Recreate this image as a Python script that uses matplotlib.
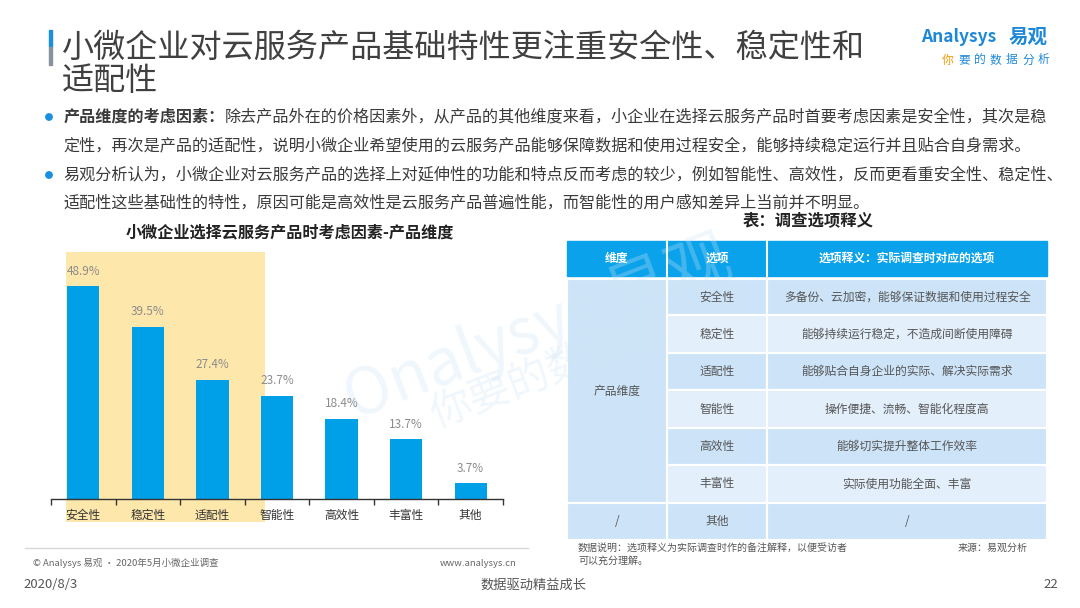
import numpy as np
import matplotlib.pyplot as plt
from matplotlib.patches import Rectangle, Circle

plt.rcParams['font.family'] = ['Noto Sans CJK SC', 'DejaVu Sans']

# chart data
categories = ["安全性", "稳定性", "适配性", "智能性", "高效性", "丰富性", "其他"]
values = [48.9, 39.5, 27.4, 23.7, 18.4, 13.7, 3.7]

# table data
table_header = ["维度", "选项", "选项释义：实际调查时对应的选项"]
table_options = ["安全性", "稳定性", "适配性", "智能性", "高效性", "丰富性", "其他"]
table_notes = ["多备份、云加密，能够保证数据和使用过程安全",
               "能够持续运行稳定，不造成间断使用障碍",
               "能够贴合自身企业的实际、解决实际需求",
               "操作便捷、流畅、智能化程度高",
               "能够切实提升整体工作效率",
               "实际使用功能全面、丰富",
               "/"]
table_dims = ["产品维度", "/"]

title_lines = ["小微企业对云服务产品基础特性更注重安全性、稳定性和", "适配性"]
bullet1_bold = "产品维度的考虑因素："
bullet1 = ["除去产品外在的价格因素外，从产品的其他维度来看，小企业在选择云服务产品时首要考虑因素是安全性，其次是稳",
           "定性，再次是产品的适配性，说明小微企业希望使用的云服务产品能够保障数据和使用过程安全，能够持续稳定运行并且贴合自身需求。"]
bullet2 = ["易观分析认为，小微企业对云服务产品的选择上对延伸性的功能和特点反而考虑的较少，例如智能性、高效性，反而更看重安全性、稳定性、",
           "适配性这些基础性的特性，原因可能是高效性是云服务产品普遍性能，而智能性的用户感知差异上当前并不明显。"]

BLUE = "#00A0E9"
TXT = "#3a3a3a"

fig = plt.figure(figsize=(10.8, 6.08), dpi=100)
bg = fig.add_axes([0, 0, 1, 1], zorder=0)
bg.set_xlim(0, 1080)
bg.set_ylim(608, 0)
bg.axis("off")

# title
bg.add_patch(Rectangle((48.5, 30), 3, 17, color="#1a8fe0"))
bg.add_patch(Rectangle((48.5, 47), 3, 18, color="#8a939b"))
bg.text(62, 48, title_lines[0], fontsize=23.1, color="#404040", va="center")
bg.text(62, 81, title_lines[1], fontsize=23.1, color="#404040", va="center")

# logo
bg.text(921, 37, "Analysys", fontsize=12.5, color="#1e88d8", va="center", style="italic",
        fontweight="bold")
bg.text(1048, 37, "易观", fontsize=14, color="#1e88d8", va="center", ha="right", fontweight="bold")
slogan = "你要的数据分析"
for i, ch in enumerate(slogan):
    bg.text(942 + i * 16, 60, ch, fontsize=8.5, va="center",
            color="#f39800" if i == 0 else "#1e88d8")

# bullets
bg.add_patch(Circle((49, 117), 3.2, color="#1a8fe0"))
bg.add_patch(Circle((49, 175), 3.2, color="#1a8fe0"))
bg.text(64, 117, bullet1_bold, fontsize=11.6, color=TXT, va="center", fontweight="bold")
bg.text(64 + 10 * 16.1, 117, bullet1[0], fontsize=11.6, color=TXT, va="center")
bg.text(63, 146, bullet1[1], fontsize=11.6, color=TXT, va="center")
bg.text(63, 175, bullet2[0], fontsize=11.6, color=TXT, va="center")
bg.text(63, 203, bullet2[1], fontsize=11.6, color=TXT, va="center")

# chart title
bg.text(290, 232, "小微企业选择云服务产品时考虑因素-产品维度", fontsize=11.6, color="#222222",
        ha="center", va="center", fontweight="bold")

# table
bg.text(808, 220, "表：调查选项释义", fontsize=11.8, color="#222222", ha="center",
        va="center", fontweight="bold")
col_x = [567, 667, 767, 1047]
bg.add_patch(Rectangle((col_x[0], 241), col_x[3] - col_x[0], 35, color="#0aa2ea", zorder=1))
for j in range(1, 3):
    bg.plot([col_x[j], col_x[j]], [241, 276], color="white", lw=1.5, zorder=2)
for j in range(3):
    bg.text((col_x[j] + col_x[j + 1]) / 2, 258.5, table_header[j], fontsize=8.5, color="white",
            ha="center", va="center", fontweight="bold", zorder=3)
row_y = [279, 315, 353, 390, 428, 465, 503, 540]
dark = "#cde4f8"
light = "#e3effb"
for i in range(len(table_options)):
    y0, y1 = row_y[i], row_y[i + 1]
    c = dark if i % 2 == 0 else light
    for j in (1, 2):
        bg.add_patch(Rectangle((col_x[j], y0), col_x[j + 1] - col_x[j], y1 - y0,
                               facecolor=c, edgecolor="white", lw=1.5, zorder=1))
    bg.text((col_x[1] + col_x[2]) / 2, (y0 + y1) / 2, table_options[i], fontsize=8.5,
            color="#555555", ha="center", va="center", zorder=3)
    bg.text((col_x[2] + col_x[3]) / 2, (y0 + y1) / 2, table_notes[i], fontsize=8.5,
            color="#555555", ha="center", va="center", zorder=3)
bg.add_patch(Rectangle((col_x[0], row_y[0]), col_x[1] - col_x[0], row_y[6] - row_y[0],
                       facecolor=dark, edgecolor="white", lw=1.5, zorder=1))
bg.add_patch(Rectangle((col_x[0], row_y[6]), col_x[1] - col_x[0], row_y[7] - row_y[6],
                       facecolor=dark, edgecolor="white", lw=1.5, zorder=1))
bg.text((col_x[0] + col_x[1]) / 2, (row_y[0] + row_y[6]) / 2, table_dims[0], fontsize=8.5,
        color="#555555", ha="center", va="center", zorder=3)
bg.text((col_x[0] + col_x[1]) / 2, (row_y[6] + row_y[7]) / 2, table_dims[1], fontsize=8.5,
        color="#555555", ha="center", va="center", zorder=3)

bg.text(578, 548, "数据说明：选项释义为实际调查时作的备注解释，以便受访者", fontsize=7.2,
        color="#555555", va="center")
bg.text(578, 561, "可以充分理解。", fontsize=7.2, color="#555555", va="center")
bg.text(1028, 548, "来源：易观分析", fontsize=7.2, color="#555555", va="center", ha="right")

# watermark
bg.text(335, 330, "Onalysys 易观", fontsize=46, color="#cfe6f7", alpha=0.3, rotation=21,
        va="center", zorder=2)
bg.text(425, 372, "你要的数据能", fontsize=30, color="#cfe6f7", alpha=0.3, rotation=21,
        va="center", zorder=2)

# chart footer
bg.plot([25, 528], [548, 548], color="#d8d8d8", lw=1)
bg.text(33, 563, "© Analysys 易观 · 2020年5月小微企业调查", fontsize=6.8, color="#666666", va="center")
bg.text(517, 563, "www.analysys.cn", fontsize=6.8, color="#666666", va="center", ha="right")

# page footer
bg.text(23, 585, "2020/8/3", fontsize=9.5, color="#555555", va="center")
bg.text(533, 585, "数据驱动精益成长", fontsize=9.5, color="#555555", va="center", ha="center")
bg.text(1058, 585, "22", fontsize=9.5, color="#555555", va="center", ha="right")

# bar chart axes: x from 51 to 503 px, baseline at y=499 px, 4.36 px per %
px_per_pct = 4.36
ymax = 60
h_px = ymax * px_per_pct
ax = fig.add_axes([51 / 1080, (608 - 499) / 608, 452 / 1080, h_px / 608], zorder=1)
ax.patch.set_alpha(0)
x = np.arange(len(categories))
ax.set_xlim(-0.5, len(categories) - 0.5)
ax.set_ylim(0, ymax)

# highlight block behind first three categories
ax.add_patch(Rectangle((-0.27, -5.3), 3.08, 62.0, facecolor="#fde7ab", edgecolor="none",
                       clip_on=False, zorder=0))

ax.bar(x, values, width=0.5, color=BLUE, zorder=2)
for xi, v in zip(x, values):
    ax.text(xi, v + 1.9, f"{v}%", ha="center", va="bottom", fontsize=8.5, color="#8c8c8c")

for s in ("top", "right", "left"):
    ax.spines[s].set_visible(False)
ax.spines["bottom"].set_color("#333333")
ax.spines["bottom"].set_linewidth(1)
ax.set_yticks([])
ax.set_xticks(x)
ax.set_xticklabels(categories, fontsize=8.5, color="#333333")
ax.tick_params(axis="x", which="major", length=0, pad=7)
ax.set_xticks(np.arange(len(categories) + 1) - 0.5, minor=True)
ax.tick_params(axis="x", which="minor", length=4, color="#333333", width=1)

fig.savefig("out.png", dpi=100)
